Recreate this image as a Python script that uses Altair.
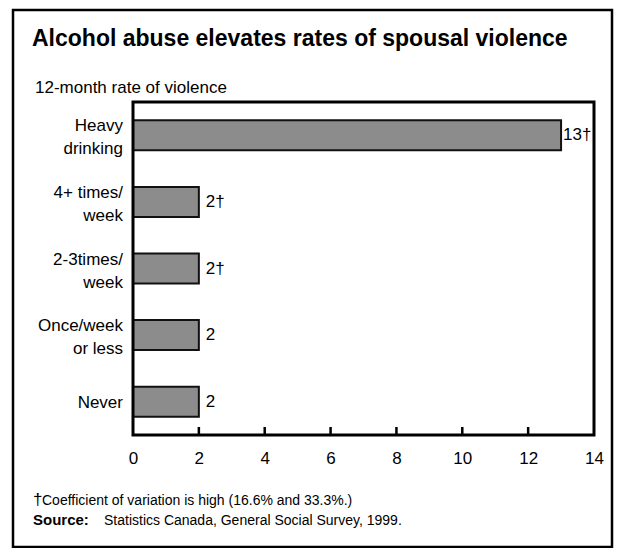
import altair as alt
import pandas as pd

categories = ["Heavy|drinking", "4+ times/|week", "2-3times/|week", "Once/week|or less", "Never"]
values = [13, 2, 2, 2, 2]
high_cv = ["†", "†", "†", "", ""]
x_ticks = [0, 2, 4, 6, 8, 10, 12, 14]
inner_ticks = [2, 4, 6, 8, 10, 12]

title_text = "Alcohol abuse elevates rates of spousal violence"
subtitle_text = "12-month rate of violence"
note_text = "Coefficient of variation is high (16.6% and 33.3%.)"
source_label = "Source:"
source_text = "Statistics Canada, General Social Survey, 1999."

FONT = "Liberation Sans"
W, H = 461, 333

df = pd.DataFrame({
    "cat": categories,
    "value": values,
    "label": [f"{v}{d}" for v, d in zip(values, high_cv)],
    "multi": ["|" in c for c in categories],
})
ticks_df = pd.DataFrame({"t": inner_ticks})

xscale = alt.Scale(domain=[0, 14], nice=False)
yscale = alt.Scale(domain=categories, paddingInner=0.55, paddingOuter=0.275)

x_enc = alt.X("value:Q", scale=xscale,
              axis=alt.Axis(values=x_ticks, ticks=False, domain=False, grid=False,
                            labelFlush=False, labelOverlap=False,
                            labelPadding=15, labelFontSize=17, labelFont=FONT,
                            labelColor="black", title=None))
y_enc = alt.Y("cat:N", scale=yscale, sort=categories, axis=None)
y_plain = alt.Y("cat:N", sort=categories)

base = alt.Chart(df)
bars = base.mark_bar(color="#8c8c8c", stroke="#111111", strokeWidth=2).encode(x=x_enc, y=y_enc)

lab_big = base.transform_filter("datum.value > 10").mark_text(
    align="left", baseline="middle", dx=2, fontSize=17, font=FONT, color="black", clip=False
).encode(x="value:Q", y=y_plain, text="label:N")
lab_small = base.transform_filter("datum.value <= 10").mark_text(
    align="left", baseline="middle", dx=7, fontSize=17, font=FONT, color="black"
).encode(x="value:Q", y=y_plain, text="label:N")

cat_multi = base.transform_filter("datum.multi").mark_text(
    align="right", baseline="middle", lineBreak="|", lineHeight=23, dy=-9,
    fontSize=17, font=FONT, color="black", clip=False
).encode(x=alt.value(-10), y=y_plain, text="cat:N")
cat_single = base.transform_filter("!datum.multi").mark_text(
    align="right", baseline="middle", dy=1,
    fontSize=17, font=FONT, color="black", clip=False
).encode(x=alt.value(-10), y=y_plain, text="cat:N")

tick_rules = alt.Chart(ticks_df).mark_rule(color="black", strokeWidth=2.5).encode(
    x="t:Q", y=alt.value(H), y2=alt.value(H - 8))

one = alt.Data(values=[{}])

def txt(s, x, y, size=17, bold=False):
    return alt.Chart(one).mark_text(
        text=s, align="left", baseline="alphabetic", fontSize=size, font=FONT,
        fontWeight="bold" if bold else "normal", color="black", clip=False
    ).encode(x=alt.value(x), y=alt.value(y))

border = alt.Chart(one).mark_rect(
    fill="transparent", stroke="black", strokeWidth=2.5, clip=False
).encode(x=alt.value(-120), x2=alt.value(479), y=alt.value(-92), y2=alt.value(445))

frame = alt.Chart(one).mark_rect(
    fill="transparent", stroke="black", strokeWidth=3, clip=False
).encode(x=alt.value(0), x2=alt.value(W), y=alt.value(0), y2=alt.value(H))

texts = [
    txt(title_text, -101, -56, size=23, bold=True),
    txt(subtitle_text, -98, -9),
    txt("†", -100, 403, size=17),
    txt(note_text, -91, 403, size=14),
    txt(source_label, -100, 423, size=15, bold=True),
    txt(source_text, -29, 423, size=14),
]

chart = alt.layer(bars, lab_big, lab_small, cat_multi, cat_single, tick_rules,
                  frame, border, *texts).properties(
    width=W, height=H,
    background="white",
    autosize=alt.AutoSizeParams(type="none"),
    padding={"left": 125, "top": 94, "right": 21, "bottom": 113},
).configure_view(stroke=None)

chart.save("out.html", embed_options={"renderer": "svg", "actions": False})
